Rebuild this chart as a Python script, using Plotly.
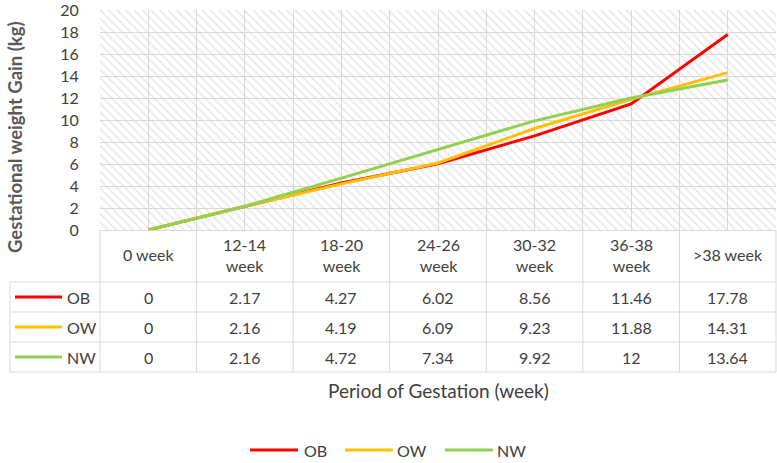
import plotly.graph_objects as go

categories = ["0 week", "12-14<br>week", "18-20<br>week", "24-26<br>week",
              "30-32<br>week", "36-38<br>week", ">38 week"]
series_names = ["OB", "OW", "NW"]
ob = [0, 2.17, 4.27, 6.02, 8.56, 11.46, 17.78]
ow = [0, 2.16, 4.19, 6.09, 9.23, 11.88, 14.31]
nw = [0, 2.16, 4.72, 7.34, 9.92, 12, 13.64]
y_ticks = [0, 2, 4, 6, 8, 10, 12, 14, 16, 18, 20]

series = [ob, ow, nw]
colors = ["#FF0000", "#FFC000", "#92D050"]

W, H = 777, 463
ML, MR, MT, MB = 100, 1, 10, 233
PW = W - ML - MR
PH = H - MT - MB
n = len(categories)

FONT = "Lato"
TXT = "#404040"
GRID = "#d9d9d9"

def px_x(px):
    return (px - ML) / PW

def px_y(py):
    return (MT + PH - py) / PH

def col_center(i):
    return (i + 0.5) / n

xs = list(range(n))

fig = go.Figure()

# hatched background
fig.add_trace(go.Scatter(
    x=[-0.5, n - 0.5, n - 0.5, -0.5, -0.5], y=[0, 0, y_ticks[-1], y_ticks[-1], 0],
    mode="lines", line=dict(width=0), fill="toself",
    fillcolor="rgba(0,0,0,0)",
    fillpattern=dict(shape="\\", fgcolor="#d2d2d2", bgcolor="rgba(0,0,0,0)",
                     size=6, solidity=0.3),
    hoverinfo="skip", showlegend=False))

for name, vals, c in zip(series_names, series, colors):
    fig.add_trace(go.Scatter(x=xs, y=vals, mode="lines", name=name,
                             line=dict(color=c, width=3), showlegend=False))

shapes = []
annotations = []

def ann(x, y, text, size=16, color=TXT, xanchor="center", **kw):
    annotations.append(dict(xref="paper", yref="paper", x=x, y=y, text=text,
                            showarrow=False, xanchor=xanchor, yanchor="middle",
                            font=dict(family=FONT, size=size, color=color), **kw))

def hline(x0, x1, y, color=GRID, width=1):
    shapes.append(dict(type="line", xref="paper", yref="paper",
                       x0=x0, x1=x1, y0=y, y1=y, line=dict(color=color, width=width)))

def vline(x, y0, y1, color=GRID, width=1):
    shapes.append(dict(type="line", xref="paper", yref="paper",
                       x0=x, x1=x, y0=y0, y1=y1, line=dict(color=color, width=width)))

# table rows (px)
row_top = MT + PH
row_lines = [row_top + 52, row_top + 82, row_top + 112, row_top + 142]
lx = px_x(10)

for ry in row_lines:
    hline(lx, 1, px_y(ry))
for i in range(n + 1):
    vline(i / n, px_y(row_top), px_y(row_lines[-1]))
vline(lx, px_y(row_lines[0]), px_y(row_lines[-1]))

# header texts
hdr_c = (row_top + row_lines[0]) / 2
for i, cat in enumerate(categories):
    ann(col_center(i), px_y(hdr_c - 1), cat)

# data rows with legend keys
for r, (name, vals, c) in enumerate(zip(series_names, series, colors)):
    cy = (row_lines[r] + row_lines[r + 1]) / 2
    yp = px_y(cy)
    hline(px_x(15), px_x(62), yp, color=c, width=3)
    ann(px_x(65), yp, name, xanchor="left")
    for i, v in enumerate(vals):
        ann(col_center(i), yp, f"{v:g}")

# axis titles
ann(px_x(15), px_y(137), "<b>Gestational weight Gain (kg)</b>", size=18.5,
    color="#595959", textangle=-90)
ann(0.5, px_y(390), "Period of Gestation (week)", size=19)

# bottom legend
leg_y = px_y(450)
leg_items = [(250, 302), (345, 395), (445, 495)]
for (lx0, tx), name, c in zip(leg_items, series_names, colors):
    hline(px_x(lx0), px_x(lx0 + 48), leg_y, color=c, width=3)
    ann(px_x(tx), leg_y, name, xanchor="left")

fig.update_layout(
    width=W, height=H,
    margin=dict(l=ML, r=MR, t=MT, b=MB),
    paper_bgcolor="white", plot_bgcolor="white",
    font=dict(family=FONT, size=16, color=TXT),
    shapes=shapes, annotations=annotations,
    showlegend=False,
    xaxis=dict(range=[-0.5, n - 0.5], tick0=-0.5, dtick=0.5, showticklabels=False,
               showgrid=True, gridcolor=GRID, zeroline=False, showline=True,
               linecolor=GRID, ticks=""),
    yaxis=dict(range=[0, 20], tickvals=y_ticks, showgrid=True, gridcolor=GRID,
               zeroline=False, showline=False, ticks="outside", ticklen=17,
               tickcolor="rgba(0,0,0,0)", ticklabeloverflow="allow",
               tickfont=dict(family=FONT, size=16, color=TXT)),
)

fig.write_html("out.html", config={"displayModeBar": False},
               post_script="document.body.style.margin='0';document.body.style.padding='0';")
